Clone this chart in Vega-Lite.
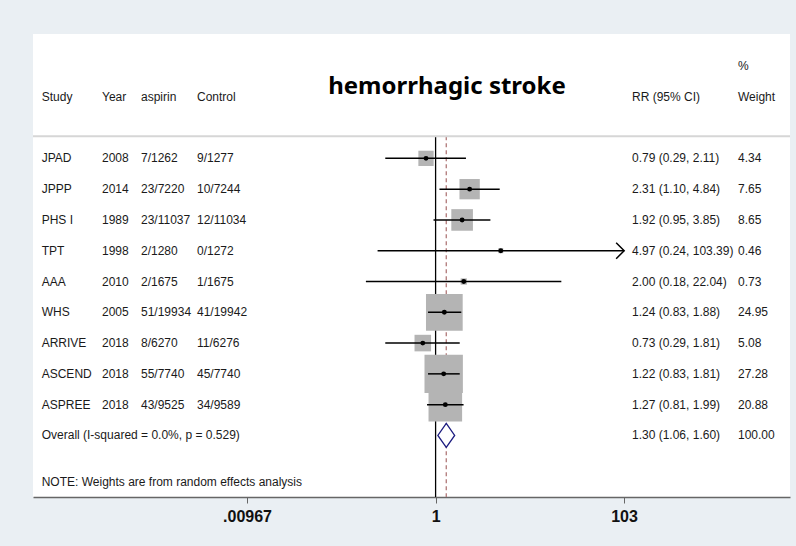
{
  "$schema": "https://vega.github.io/schema/vega-lite/v6.json",
  "width": 757,
  "height": 463,
  "autosize": {"type": "none"},
  "padding": {"left": 33, "top": 34, "right": 6, "bottom": 49},
  "background": "#eaeff3",
  "view": {"fill": "white", "stroke": null},
  "config": {
    "text": {"font": "Liberation Sans", "fontSize": 12, "color": "#1a1a1a", "align": "left", "baseline": "middle"}
  },
  "datasets": {
    "rows": [
      {"kind": "header", "row": -2, "study": "", "year": "", "asp": "", "ctl": "", "rrtext": "", "wtext": "%"},
      {"kind": "header", "row": -1, "study": "Study", "year": "Year", "asp": "aspirin", "ctl": "Control", "rrtext": "RR (95% CI)", "wtext": "Weight"},
      {"kind": "study", "row": 1, "study": "JPAD", "year": "2008", "asp": "7/1262", "ctl": "9/1277", "rr": 0.79, "lo": 0.29, "hi": 2.11, "w": 4.34, "rrtext": "0.79 (0.29, 2.11)", "wtext": "4.34"},
      {"kind": "study", "row": 2, "study": "JPPP", "year": "2014", "asp": "23/7220", "ctl": "10/7244", "rr": 2.31, "lo": 1.10, "hi": 4.84, "w": 7.65, "rrtext": "2.31 (1.10, 4.84)", "wtext": "7.65"},
      {"kind": "study", "row": 3, "study": "PHS I", "year": "1989", "asp": "23/11037", "ctl": "12/11034", "rr": 1.92, "lo": 0.95, "hi": 3.85, "w": 8.65, "rrtext": "1.92 (0.95, 3.85)", "wtext": "8.65"},
      {"kind": "study", "row": 4, "study": "TPT", "year": "1998", "asp": "2/1280", "ctl": "0/1272", "rr": 4.97, "lo": 0.24, "hi": 103.39, "w": 0.46, "rrtext": "4.97 (0.24, 103.39)", "wtext": "0.46"},
      {"kind": "study", "row": 5, "study": "AAA", "year": "2010", "asp": "2/1675", "ctl": "1/1675", "rr": 2.00, "lo": 0.18, "hi": 22.04, "w": 0.73, "rrtext": "2.00 (0.18, 22.04)", "wtext": "0.73"},
      {"kind": "study", "row": 6, "study": "WHS", "year": "2005", "asp": "51/19934", "ctl": "41/19942", "rr": 1.24, "lo": 0.83, "hi": 1.88, "w": 24.95, "rrtext": "1.24 (0.83, 1.88)", "wtext": "24.95"},
      {"kind": "study", "row": 7, "study": "ARRIVE", "year": "2018", "asp": "8/6270", "ctl": "11/6276", "rr": 0.73, "lo": 0.29, "hi": 1.81, "w": 5.08, "rrtext": "0.73 (0.29, 1.81)", "wtext": "5.08"},
      {"kind": "study", "row": 8, "study": "ASCEND", "year": "2018", "asp": "55/7740", "ctl": "45/7740", "rr": 1.22, "lo": 0.83, "hi": 1.81, "w": 27.28, "rrtext": "1.22 (0.83, 1.81)", "wtext": "27.28"},
      {"kind": "study", "row": 9, "study": "ASPREE", "year": "2018", "asp": "43/9525", "ctl": "34/9589", "rr": 1.27, "lo": 0.81, "hi": 1.99, "w": 20.88, "rrtext": "1.27 (0.81, 1.99)", "wtext": "20.88"},
      {"kind": "overall", "row": 10, "study": "Overall  (I-squared = 0.0%, p = 0.529)", "year": "", "asp": "", "ctl": "", "rr": 1.30, "lo": 1.06, "hi": 1.60, "w": 100, "rrtext": "1.30 (1.06, 1.60)", "wtext": "100.00"},
      {"kind": "note", "row": 11.5, "study": "NOTE: Weights are from random effects analysis", "year": "", "asp": "", "ctl": "", "rrtext": "", "wtext": ""}
    ],
    "refs": [
      {"line": "null", "value": 1},
      {"line": "overall", "value": 1.30}
    ]
  },
  "data": {"name": "rows"},
  "layer": [
    {
      "data": {"name": "refs"},
      "mark": {"type": "rule", "strokeWidth": 1.3},
      "encoding": {
        "x": {"field": "value", "type": "quantitative", "scale": {"type": "log", "domain": [0.00005, 6111], "nice": false},
          "axis": {"values": [0.00967, 1, 103], "labelExpr": "datum.value < 0.1 ? '.00967' : (datum.value < 10 ? '1' : '103')", "title": null, "grid": false, "domainColor": "#666666", "domainWidth": 1.5, "tickColor": "#666666", "tickSize": 6, "tickWidth": 1, "labelFont": "Liberation Sans", "labelFontWeight": "bold", "labelFontSize": 16, "labelColor": "#111111", "labelPadding": 5, "labelFlush": false, "labelOverlap": false}},
        "y": {"datum": 0.28, "type": "quantitative", "scale": {"domain": [-3.04, 12], "reverse": true, "nice": false, "zero": false}, "axis": null},
        "y2": {"datum": 12},
        "color": {"field": "line", "type": "nominal", "scale": {"domain": ["null", "overall"], "range": ["#000000", "#b07878"]}, "legend": null},
        "strokeDash": {"field": "line", "type": "nominal", "scale": {"domain": ["null", "overall"], "range": [[1, 0], [4, 3]]}, "legend": null}
      }
    },
    {
      "data": {"name": "refs"},
      "transform": [{"filter": "datum.line == 'null'"}],
      "mark": {"type": "rule", "color": "#d6d6d6", "strokeWidth": 2},
      "encoding": {"y": {"datum": 0.28, "type": "quantitative"}}
    },
    {
      "transform": [{"filter": "datum.kind == 'study'"}],
      "mark": {"type": "point", "shape": "square", "filled": true, "color": "#b4b4b4", "opacity": 1},
      "encoding": {
        "x": {"field": "rr", "type": "quantitative"},
        "y": {"field": "row", "type": "quantitative"},
        "size": {"field": "w", "type": "quantitative", "scale": {"type": "linear", "domain": [0, 100], "range": [0, 5400]}, "legend": null}
      }
    },
    {
      "transform": [{"filter": "datum.kind == 'study'"}],
      "mark": {"type": "rule", "color": "#000000", "strokeWidth": 1.5},
      "encoding": {
        "x": {"field": "lo", "type": "quantitative"},
        "x2": {"field": "hi"},
        "y": {"field": "row", "type": "quantitative"}
      }
    },
    {
      "transform": [{"filter": "datum.kind == 'study'"}],
      "mark": {"type": "point", "shape": "circle", "filled": true, "color": "#000000", "size": 24, "opacity": 1},
      "encoding": {"x": {"field": "rr", "type": "quantitative"}, "y": {"field": "row", "type": "quantitative"}}
    },
    {
      "transform": [{"filter": "datum.kind == 'study' && datum.hi > 100"}],
      "mark": {"type": "point", "shape": "M-1,-1L0,0L-1,1", "filled": false, "fill": null, "stroke": "#000000", "strokeWidth": 1.5, "size": 256, "opacity": 1},
      "encoding": {"x": {"field": "hi", "type": "quantitative"}, "y": {"field": "row", "type": "quantitative"}}
    },
    {
      "transform": [{"filter": "datum.kind == 'overall'"}],
      "mark": {"type": "point", "shape": "M0,-1L0.7,0L0,1L-0.7,0Z", "filled": true, "fill": "white", "stroke": "#1c1c80", "strokeWidth": 1.3, "size": 576, "opacity": 1},
      "encoding": {"x": {"field": "rr", "type": "quantitative"}, "y": {"field": "row", "type": "quantitative"}}
    },
    {
      "mark": {"type": "text"},
      "encoding": {"x": {"value": 8.7}, "y": {"field": "row", "type": "quantitative"}, "text": {"field": "study"}}
    },
    {
      "mark": {"type": "text"},
      "encoding": {"x": {"value": 69}, "y": {"field": "row", "type": "quantitative"}, "text": {"field": "year"}}
    },
    {
      "mark": {"type": "text"},
      "encoding": {"x": {"value": 108}, "y": {"field": "row", "type": "quantitative"}, "text": {"field": "asp"}}
    },
    {
      "mark": {"type": "text"},
      "encoding": {"x": {"value": 164}, "y": {"field": "row", "type": "quantitative"}, "text": {"field": "ctl"}}
    },
    {
      "mark": {"type": "text"},
      "encoding": {"x": {"value": 599}, "y": {"field": "row", "type": "quantitative"}, "text": {"field": "rrtext"}}
    },
    {
      "mark": {"type": "text"},
      "encoding": {"x": {"value": 705}, "y": {"field": "row", "type": "quantitative"}, "text": {"field": "wtext"}}
    },
    {
      "data": {"values": [{"row": -1.09, "label": "hemorrhagic stroke"}]},
      "mark": {"type": "text", "font": "Noto Sans", "fontSize": 24, "fontWeight": "bold", "color": "#000000", "align": "center", "baseline": "alphabetic"},
      "encoding": {"x": {"value": 414}, "y": {"field": "row", "type": "quantitative"}, "text": {"field": "label"}}
    }
  ]
}
